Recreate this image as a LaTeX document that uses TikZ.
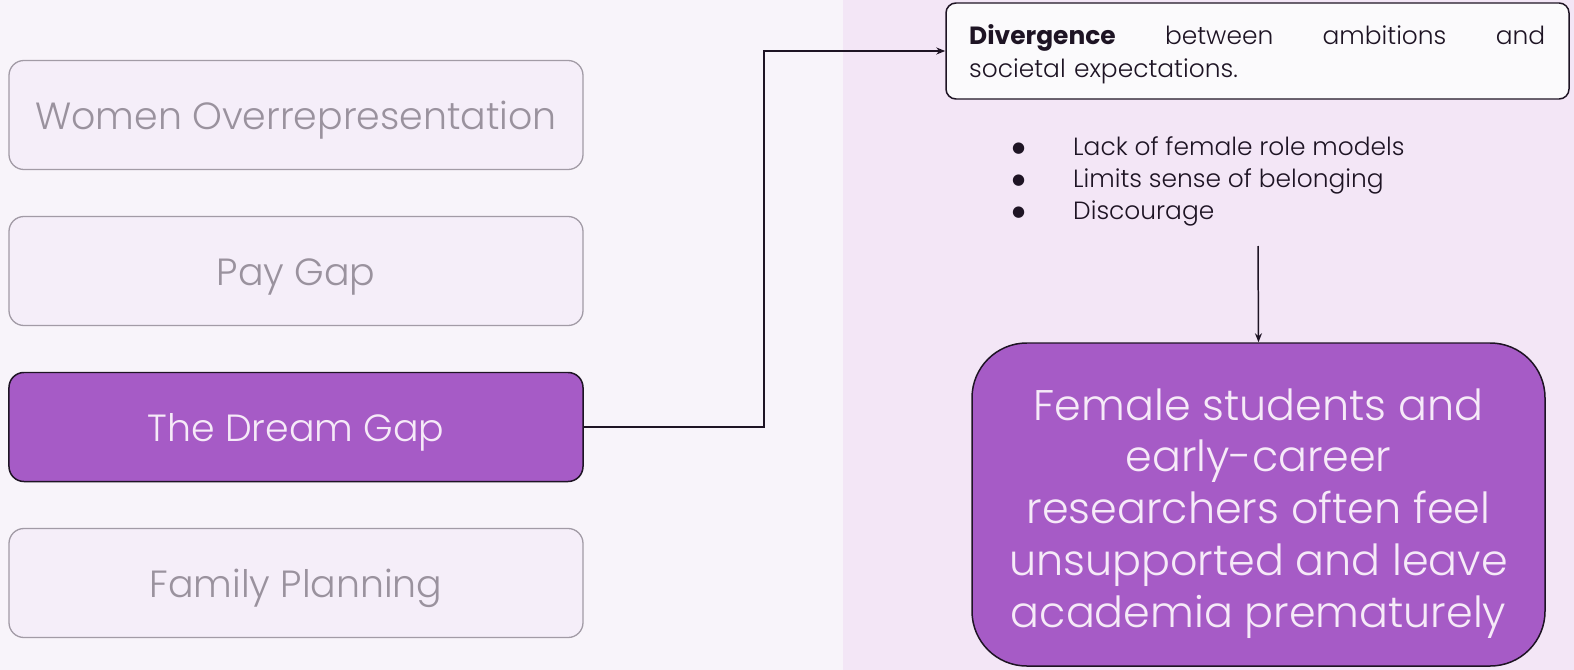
\documentclass[tikz,border=0pt]{standalone}
\usepackage{fontspec}
\IfFontExistsTF{Poppins Light}{\setmainfont{Poppins Light}[BoldFont=Poppins Bold]}{\setmainfont{Poppins}}
\newfontfamily\symfont{DejaVu Sans}
\usetikzlibrary{arrows.meta}
\definecolor{bgL}{HTML}{F8F4FA}
\definecolor{bgR}{HTML}{F3E6F6}
\definecolor{boxfill}{HTML}{F5EEF9}
\definecolor{boxline}{HTML}{A29BA6}
\definecolor{greytext}{HTML}{9A929E}
\definecolor{purp}{HTML}{A65BC6}
\definecolor{darkline}{HTML}{1E1424}
\definecolor{lighttext}{HTML}{F6EAF8}
\tikzset{
  greybox/.style={draw=boxline, line width=1.3pt, fill=boxfill, rounded corners=15pt,
    minimum width=574bp, minimum height=109bp, text=greytext, inner sep=0pt,
    text height=30pt, text depth=0pt,
    font=\fontsize{38}{44}\selectfont},
  purpbox/.style={greybox, draw=darkline, line width=1.5pt, fill=purp, text=lighttext},
  conn/.style={draw=darkline, line width=1.5pt},
  arr/.style={conn, -{Stealth[length=9pt,width=7pt]}}
}
\newcommand{\bulletmark}{\raisebox{3pt}{\symfont\fontsize{15}{15}\selectfont ●}}
\begin{document}
\begin{tikzpicture}[x=1bp,y=-1bp]
\useasboundingbox (0,0) rectangle (1574,670);
\fill[bgL] (0,0) rectangle (843,670);
\fill[bgR] (843,0) rectangle (1574,670);
\node[greybox] (wo) at (296,115) {Women Overrepresentation};
\node[greybox] (pg) at (296,271) {Pay Gap};
\node[purpbox] (dg) at (296,427) {The Dream Gap};
\node[greybox] (fp) at (296,583) {Family Planning};
\node[draw=darkline, line width=1.5pt, fill=bgL!50!white, rounded corners=10pt,
  minimum width=623bp, minimum height=96bp, inner sep=0pt] (dv) at (1257.5,51) {};
\node[anchor=north west, text width=576bp, text=darkline, inner sep=0pt,
  font=\fontsize{25}{33}\selectfont] (dvt) at (969,24)
  {\textbf{Divergence}\hfill between\hfill ambitions\hfill and\\societal expectations.};
\node[anchor=north west, text=darkline, inner sep=0pt, font=\fontsize{25}{32}\selectfont] (bl) at (1012,133)
  {\begin{tabular}{@{}p{61bp}@{}l@{}}
   \bulletmark & Lack of female role models\\
   \bulletmark & Limits sense of belonging\\
   \bulletmark & Discourage
   \end{tabular}};
\coordinate (bs) at (1258,246);
\node[draw=darkline, line width=1.5pt, fill=purp, rounded corners=55pt,
  minimum width=573bp, minimum height=323bp, inner sep=0pt] (ff) at (1258.5,504.5) {};
\node[text=lighttext, align=center, inner sep=0pt, font=\fontsize{43}{52}\selectfont,
  yshift=-9pt] (fft) at (ff.center)
  {Female students and\\early-career\\researchers often feel\\unsupported and leave\\academia prematurely};
\coordinate (cx) at (764,427);
\draw[arr] (dg.east) -- (cx) |- (dv.west);
\draw[arr] (bs) -- (ff.north);
\end{tikzpicture}
\end{document}
